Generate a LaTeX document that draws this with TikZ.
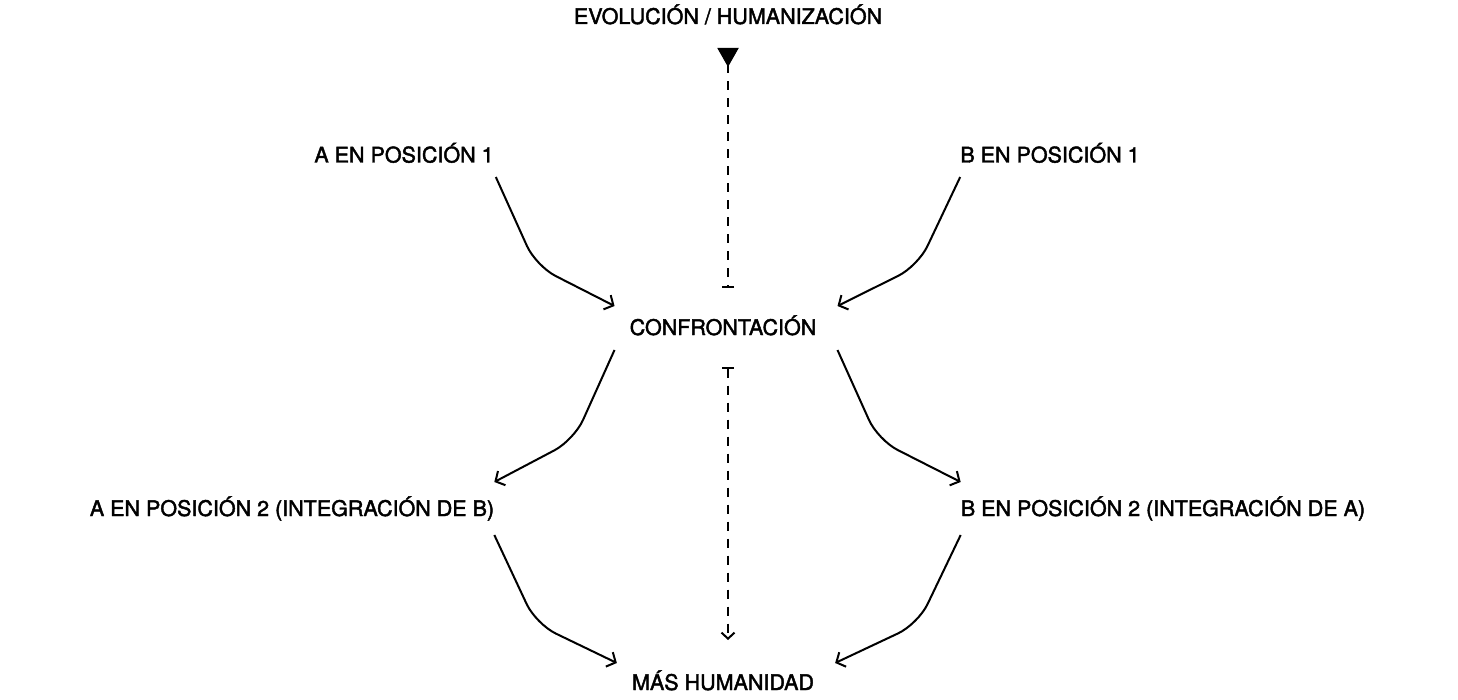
\documentclass[tikz,border=0pt]{standalone}
\usepackage{fontspec}
\setmainfont{TeX Gyre Heros}[BoldFont={TeX Gyre Heros},BoldFeatures={FakeBold=2}]
\usetikzlibrary{arrows.meta,calc}
\begin{document}
\begin{tikzpicture}[x=1pt,y=-1pt,
  lbl/.style={font=\fontsize{21.5}{25}\selectfont\bfseries, inner sep=0pt, text depth=0pt, anchor=base},
  conn/.style={line width=2pt, rounded corners=22pt, -{Straight Barb[length=7pt,width=16pt,line width=2pt]}},
  dashline/.style={line width=2pt, dash pattern=on 9pt off 8pt},
]
\useasboundingbox (0,0) rectangle (1458,700);
\node[lbl] (evo) at (728,24) {EVOLUCIÓN / HUMANIZACIÓN};
\node[lbl] (a1) at (404,162.5) {A EN POSICIÓN 1};
\node[lbl] (b1) at (1050,162.5) {B EN POSICIÓN 1};
\node[lbl] (conf) at (723,335) {CONFRONTACIÓN};
\node[lbl] (a2) at (292,516) {A EN POSICIÓN 2 (INTEGRACIÓN DE B)};
\node[lbl] (b2) at (1163,516) {B EN POSICIÓN 2 (INTEGRACIÓN DE A)};
\node[lbl] (mas) at (723,690) {MÁS HUMANIDAD};

\draw[conn] ([shift={(2,14.5)}]a1.base east) -- (536,266) -- ([shift={(-15,-29)}]conf.base west);
\draw[conn] ([shift={(0,14.5)}]b1.base west) -- (918,266) -- ([shift={(21,-29)}]conf.base east);
\draw[conn] ([shift={(-15,15)}]conf.base west) -- (574,440) -- ([shift={(0,-34)}]a2.base east);
\draw[conn] ([shift={(21,15)}]conf.base east) -- (878,440) -- ([shift={(0,-34)}]b2.base west);
\draw[conn] ([shift={(0,19)}]a2.base east) -- (536,624) -- ([shift={(-15,-27)}]mas.base west);
\draw[conn] ([shift={(0,19)}]b2.base west) -- (918,624) -- ([shift={(21,-27)}]mas.base east);

\draw[dashline, {Triangle[reversed,width=21pt,length=19pt]}-{Bar[width=12pt,line width=2pt]}]
  ([shift={(0,24)}]evo.base) -- ([shift={(0,264)}]evo.base);
\draw[dashline, {Bar[width=12pt,line width=2pt]}-{Straight Barb[length=6pt,width=13pt,line width=2pt]}]
  ([shift={(5,32)}]conf.base) -- ([shift={(5,-50)}]mas.base);
\end{tikzpicture}
\end{document}
